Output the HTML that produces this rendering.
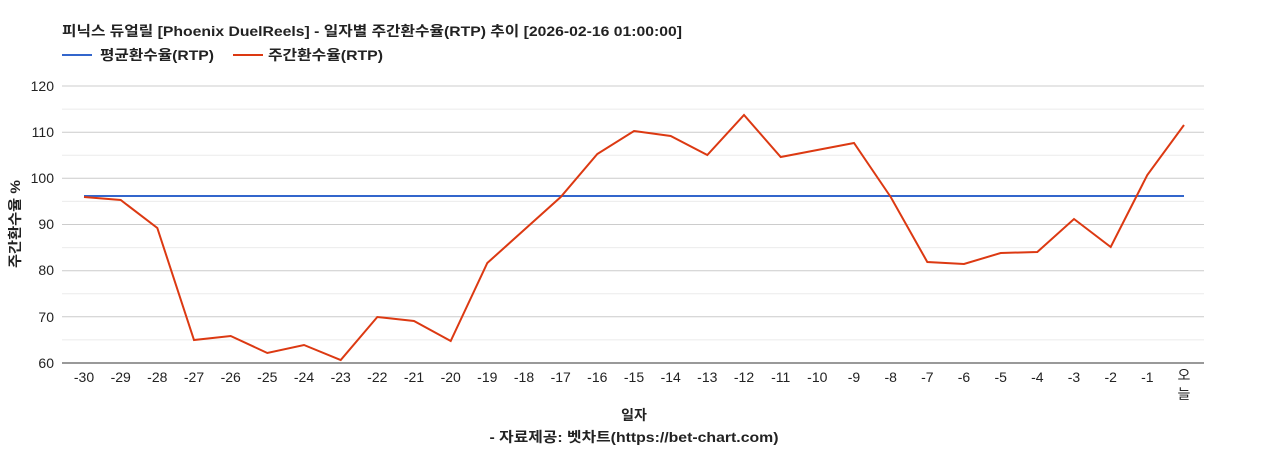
<!DOCTYPE html>
<html><head><meta charset="utf-8"><style>
body{margin:0;background:#fff;}
svg{display:block;font-family:"Liberation Sans","Noto Sans CJK KR",sans-serif;}
</style></head><body>
<svg width="1268" height="450" viewBox="0 0 1268 450">
<rect width="1268" height="450" fill="#fff"/>
<text x="62" y="36" font-size="14" font-weight="bold" fill="#222" textLength="620" lengthAdjust="spacingAndGlyphs">피닉스 듀얼릴 [Phoenix DuelReels] - 일자별 주간환수율(RTP) 추이 [2026-02-16 01:00:00]</text>
<line x1="62" y1="55" x2="92" y2="55" stroke="#3366cc" stroke-width="2"/>
<text x="100" y="60" font-size="14" font-weight="bold" fill="#222" textLength="114" lengthAdjust="spacingAndGlyphs">평균환수율(RTP)</text>
<line x1="233" y1="55" x2="263" y2="55" stroke="#dc3912" stroke-width="2"/>
<text x="268" y="60" font-size="14" font-weight="bold" fill="#222" textLength="115" lengthAdjust="spacingAndGlyphs">주간환수율(RTP)</text>
<g stroke="#ebebeb" stroke-width="1">
<line x1="62" y1="109.1" x2="1204" y2="109.1"/><line x1="62" y1="155.3" x2="1204" y2="155.3"/>
<line x1="62" y1="201.4" x2="1204" y2="201.4"/><line x1="62" y1="247.6" x2="1204" y2="247.6"/>
<line x1="62" y1="293.8" x2="1204" y2="293.8"/><line x1="62" y1="339.9" x2="1204" y2="339.9"/>
</g>
<g stroke="#cccccc" stroke-width="1">
<line x1="62" y1="86" x2="1204" y2="86"/><line x1="62" y1="132.2" x2="1204" y2="132.2"/>
<line x1="62" y1="178.3" x2="1204" y2="178.3"/><line x1="62" y1="224.5" x2="1204" y2="224.5"/>
<line x1="62" y1="270.7" x2="1204" y2="270.7"/><line x1="62" y1="316.8" x2="1204" y2="316.8"/>
</g>
<line x1="62" y1="363" x2="1204" y2="363" stroke="#333"/>
<g font-size="14" fill="#222" text-anchor="end">
<text x="54" y="91">120</text><text x="54" y="137">110</text><text x="54" y="183">100</text>
<text x="54" y="229">90</text><text x="54" y="275">80</text><text x="54" y="322">70</text><text x="54" y="368">60</text>
</g>
<text transform="translate(20,224) rotate(-90)" font-size="14" font-weight="bold" fill="#222" text-anchor="middle" textLength="88" lengthAdjust="spacingAndGlyphs">주간환수율 %</text>
<line x1="84" y1="196" x2="1184" y2="196" stroke="#3366cc" stroke-width="2"/>
<polyline fill="none" stroke="#dc3912" stroke-width="2" points="84,197 120.7,200 157.3,228 194,340 230.7,336 267.3,353 304,345 340.7,360 377.3,317 414,321 450.7,341 487.3,263 524,230 560.7,197 597.3,154 634,131 670.7,136 707.3,155 744,115 780.7,157 817.3,150 854,143 890.7,197 927.3,262 964,264 1000.7,253 1037.3,252 1074,219 1110.7,247 1147.3,175 1184,125"/>
<text x="634" y="420" font-size="14" font-weight="bold" fill="#222" text-anchor="middle">일자</text>
<text x="634" y="442" font-size="14" font-weight="bold" fill="#222" text-anchor="middle" textLength="289" lengthAdjust="spacingAndGlyphs">- 자료제공: 벳차트(https://bet-chart.com)</text>
<g font-size="14" fill="#222" text-anchor="middle">
<text x="84" y="382">-30</text><text x="120.7" y="382">-29</text><text x="157.3" y="382">-28</text><text x="194" y="382">-27</text>
<text x="230.7" y="382">-26</text><text x="267.3" y="382">-25</text><text x="304" y="382">-24</text><text x="340.7" y="382">-23</text>
<text x="377.3" y="382">-22</text><text x="414" y="382">-21</text><text x="450.7" y="382">-20</text><text x="487.3" y="382">-19</text>
<text x="524" y="382">-18</text><text x="560.7" y="382">-17</text><text x="597.3" y="382">-16</text><text x="634" y="382">-15</text>
<text x="670.7" y="382">-14</text><text x="707.3" y="382">-13</text><text x="744" y="382">-12</text><text x="780.7" y="382">-11</text>
<text x="817.3" y="382">-10</text><text x="854" y="382">-9</text><text x="890.7" y="382">-8</text><text x="927.3" y="382">-7</text>
<text x="964" y="382">-6</text><text x="1000.7" y="382">-5</text><text x="1037.3" y="382">-4</text><text x="1074" y="382">-3</text>
<text x="1110.7" y="382">-2</text><text x="1147.3" y="382">-1</text><text x="1184" y="380">오</text><text x="1184" y="399">늘</text>
</g>
</svg>
</body></html>
